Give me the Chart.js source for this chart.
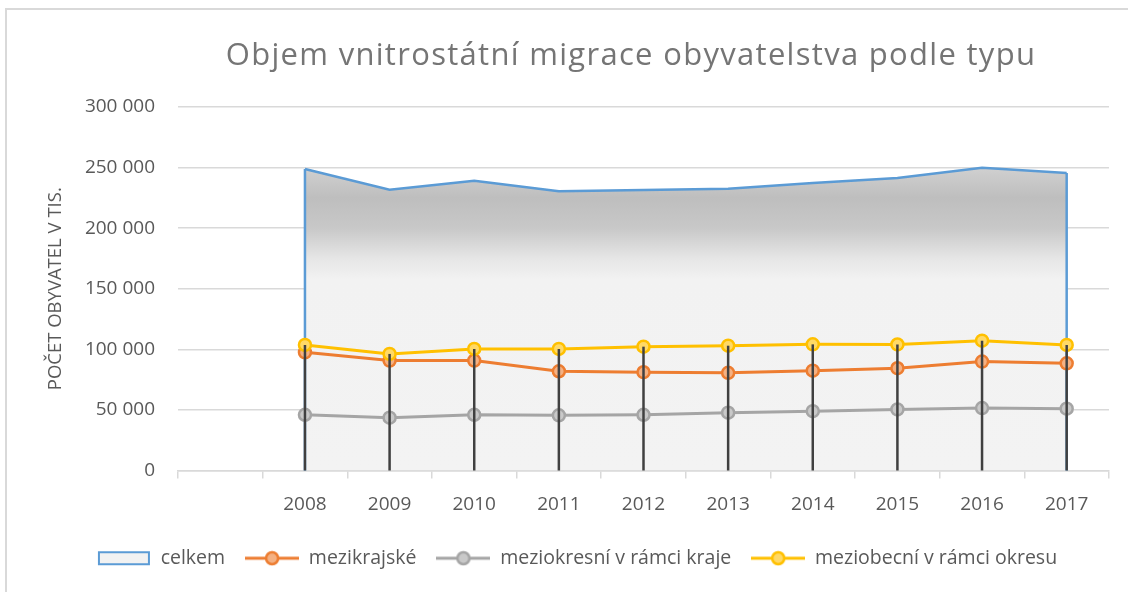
<!DOCTYPE html>
<html>
<head>
<meta charset="utf-8">
<script src="https://cdn.jsdelivr.net/npm/chart.js@4.4.1/dist/chart.umd.min.js"></script>
<style>
  html, body { margin: 0; padding: 0; background: #fff; overflow: hidden; }
  #frame { position: absolute; left: 5px; top: 8px; width: 1200px; height: 700px; border: 2px solid #d9d9d9; }
  #chart { position: absolute; left: 0; top: 0; }
</style>
</head>
<body>
<div id="frame"></div>
<canvas id="chart" width="1128" height="592"></canvas>
<script>
const categories = ['', '2008', '2009', '2010', '2011', '2012', '2013', '2014', '2015', '2016', '2017'];
const celkem = [null, 248800, 231800, 239200, 230400, 231500, 232600, 237300, 241400, 249900, 245500];
const mezikrajske = [null, 97500, 90700, 90700, 81900, 81100, 80600, 82400, 84400, 89900, 88500];
const meziokresni = [null, 46000, 43600, 46000, 45500, 46000, 47700, 49000, 50400, 51500, 51000];
const meziobecni = [null, 103600, 96200, 100300, 100300, 102200, 103000, 104100, 104000, 107100, 103600];
const yTicks = [0, 50000, 100000, 150000, 200000, 250000, 300000];

const font = "'Open Sans', 'DejaVu Sans', sans-serif";

// little pictures for the legend symbols
function lineSymbol(line, fill) {
    const c = document.createElement('canvas');
    c.width = 54; c.height = 16;
    const g = c.getContext('2d');
    g.strokeStyle = line; g.lineWidth = 3;
    g.beginPath(); g.moveTo(0, 8); g.lineTo(54, 8); g.stroke();
    g.fillStyle = fill; g.lineWidth = 2.5;
    g.beginPath(); g.arc(27, 8, 6, 0, Math.PI * 2); g.fill(); g.stroke();
    return c;
}
function boxSymbol() {
    const c = document.createElement('canvas');
    c.width = 54; c.height = 16;
    const g = c.getContext('2d');
    g.fillStyle = '#f2f2f2'; g.fillRect(2, 2, 50, 12);
    g.strokeStyle = '#5b9bd5'; g.lineWidth = 2;
    g.strokeRect(2, 2, 50, 12);
    return c;
}
const symbols = [boxSymbol(), lineSymbol('#ed7d31', '#f4b183'), lineSymbol('#a5a5a5', '#c9c9c9'), lineSymbol('#ffc000', '#ffd966')];

function fmt(v) {
    return String(v).replace(/\B(?=(\d{3})+(?!\d))/g, ' ');
}

const extras = {
    id: 'extras',
    afterLayout(chart) {
        // title sits a bit right of the legend centre, and is spaced out
        const t = chart.titleBlock;
        t.left += 54;
        t.right += 54;
        if (!t._spaced) {
            const draw = t.draw.bind(t);
            t.draw = (...a) => {
                chart.ctx.save();
                chart.ctx.letterSpacing = '1.3px';
                draw(...a);
                chart.ctx.restore();
            };
            t._spaced = true;
        }
    },
    afterDatasetDraw(chart, args) {
        if (args.index !== 0) return;
        const ctx = chart.ctx;
        const pts = args.meta.data;
        const base = chart.scales.y.getPixelForValue(0);
        ctx.save();
        ctx.strokeStyle = '#5b9bd5';
        ctx.lineWidth = 2.5;
        [pts[1], pts[pts.length - 1]].forEach(p => {
            ctx.beginPath(); ctx.moveTo(p.x, p.y); ctx.lineTo(p.x, base); ctx.stroke();
        });
        ctx.restore();
    },
    afterDatasetsDraw(chart) {
        // drop lines from the highest line point down to the axis
        const ctx = chart.ctx;
        const y = chart.scales.y;
        const x = chart.scales.x;
        ctx.save();
        ctx.strokeStyle = '#404040';
        ctx.lineWidth = 2.5;
        for (let i = 0; i < categories.length; i++) {
            const vals = [mezikrajske[i], meziokresni[i], meziobecni[i]].filter(v => v != null);
            if (!vals.length) continue;
            const px = x.getPixelForValue(i);
            ctx.beginPath();
            ctx.moveTo(px, y.getPixelForValue(Math.max(...vals)));
            ctx.lineTo(px, y.getPixelForValue(0));
            ctx.stroke();
        }
        ctx.restore();
    }
};

const ctx = document.getElementById('chart').getContext('2d');
new Chart(ctx, {
    type: 'line',
    data: {
        labels: categories,
        datasets: [
            {
                label: 'celkem',
                data: celkem,
                order: 4,
                fill: 'origin',
                borderColor: '#5b9bd5',
                borderWidth: 2.5,
                pointRadius: 0,
                backgroundColor: (c) => {
                    const area = c.chart.chartArea;
                    if (!area) return '#e0e0e0';
                    const ys = c.chart.scales.y;
                    const g = c.chart.ctx.createLinearGradient(0, ys.getPixelForValue(250000), 0, ys.getPixelForValue(0));
                    g.addColorStop(0, '#d0d0d0');
                    g.addColorStop(0.1, '#bebebe');
                    g.addColorStop(0.2, '#c8c8c8');
                    g.addColorStop(0.3, '#e6e6e6');
                    g.addColorStop(0.37, '#f2f2f2');
                    g.addColorStop(1, '#f3f3f3');
                    return g;
                }
            },
            {
                label: 'mezikrajské',
                data: mezikrajske,
                order: 2,
                borderColor: '#ed7d31',
                backgroundColor: '#f4b183',
                borderWidth: 3,
                pointRadius: 6,
                pointBorderWidth: 2.5,
                pointBorderColor: '#ed7d31'
            },
            {
                label: 'meziokresní v rámci kraje',
                data: meziokresni,
                order: 3,
                borderColor: '#a5a5a5',
                backgroundColor: '#c9c9c9',
                borderWidth: 3,
                pointRadius: 6,
                pointBorderWidth: 2.5,
                pointBorderColor: '#a5a5a5'
            },
            {
                label: 'meziobecní v rámci okresu',
                data: meziobecni,
                order: 1,
                borderColor: '#ffc000',
                backgroundColor: '#ffd966',
                borderWidth: 3,
                pointRadius: 6,
                pointBorderWidth: 2.5,
                pointBorderColor: '#ffc000'
            }
        ]
    },
    options: {
        responsive: false,
        animation: false,
        layout: { padding: { left: 45, right: 19, top: 0, bottom: 14 } },
        plugins: {
            tooltip: { enabled: false },
            title: {
                display: true,
                text: 'Objem vnitrostátní migrace obyvatelstva podle typu',
                color: '#757575',
                font: { family: font, size: 31, weight: 'normal', lineHeight: 1.2 },
                padding: { top: 38, bottom: 31.8 }
            },
            legend: {
                position: 'bottom',
                labels: {
                    color: '#595959',
                    font: { family: font, size: 19.5 },
                    usePointStyle: true,
                    pointStyleWidth: 54,
                    padding: 20,
                    sort: (a, b) => a.datasetIndex - b.datasetIndex,
                    generateLabels(chart) {
                        const items = Chart.defaults.plugins.legend.labels.generateLabels(chart);
                        items.forEach(it => { it.pointStyle = symbols[it.datasetIndex]; });
                        return items;
                    }
                }
            }
        },
        scales: {
            x: {
                offset: true,
                grid: { offset: true, drawOnChartArea: false, drawTicks: true, tickLength: 8, color: '#d9d9d9', lineWidth: 1.5 },
                border: { display: true, color: '#d9d9d9', width: 1.5 },
                ticks: { color: '#595959', font: { family: font, size: 19 }, padding: 15, maxRotation: 0, autoSkip: false },
                afterFit(scale) { scale.height = 58; }
            },
            y: {
                min: 0,
                max: 300000,
                afterBuildTicks(scale) { scale.ticks = yTicks.map(v => ({ value: v })); },
                grid: { color: '#d9d9d9', lineWidth: 1.5, drawTicks: false },
                border: { display: false },
                ticks: { color: '#595959', font: { family: font, size: 19 }, padding: 23, callback: (v) => fmt(v) },
                title: {
                    display: true,
                    text: 'POČET OBYVATEL V TIS.',
                    color: '#595959',
                    font: { family: font, size: 18.5 },
                    padding: { top: 0, bottom: 0 }
                },
                afterFit(scale) { scale.width = 133; }
            }
        }
    },
    plugins: [extras]
});
</script>
</body>
</html>
